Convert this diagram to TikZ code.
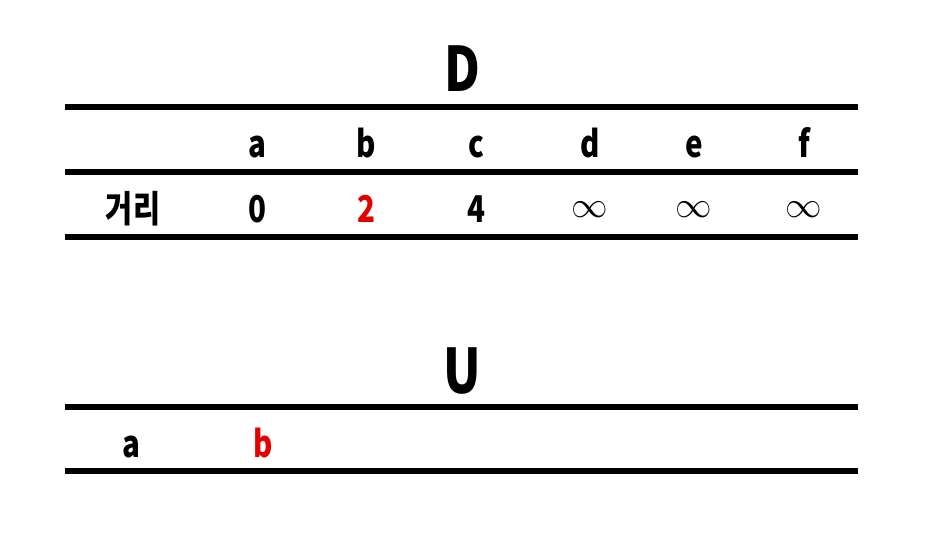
\documentclass[tikz,border=0pt]{standalone}
\usepackage{fontspec}
\setmainfont{Noto Sans CJK KR}[FakeStretch=0.8]
\usetikzlibrary{positioning}
\tikzset{rule/.style={line width=3.4pt},
    cell/.style={anchor=base, inner sep=0pt, font=\fontsize{21}{24}\selectfont\bfseries},
    title/.style={anchor=base, inner sep=0pt, font=\fontsize{35}{38}\selectfont\bfseries},
    hit/.style={text=red!90!black}}

\begin{document}
\begin{tikzpicture}[x=0.02cm, y=-0.02cm]
    \useasboundingbox (0,0) rectangle (929,533);

    % table D
    \node [title] (tD) at (462,92) {D};
    \foreach \n/\y in {d1/107, d2/172, d3/237} {
        \coordinate (\n w) at (65,\y);
        \coordinate (\n e) at (858,\y);
        \draw [rule] (\n w) -- (\n e);
    }
    \foreach \v/\x in {a/257, b/366, c/476, d/590, e/694, f/804}
        \node [cell] (h\v) at (\x,158) {\v};
    \node [cell] (dist) at (133,223) {거리};
    \node [cell] (va) at (257,223) {0};
    \node [cell, hit] (vb) at (366,223) {2};
    \node [cell] (vc) at (476,223) {4};
    \foreach \v/\x in {d/590, e/694, f/804}
        \node [cell] (v\v) at (\x,218) {$\infty$};

    % set U
    \node [title] (tU) at (462,393) {U};
    \foreach \n/\y in {u1/407, u2/471} {
        \coordinate (\n w) at (65,\y);
        \coordinate (\n e) at (858,\y);
        \draw [rule] (\n w) -- (\n e);
    }
    \node [cell] (ua) at (131,457) {a};
    \node [cell, hit] (ub) at (263,457) {b};
\end{tikzpicture}
\end{document}
